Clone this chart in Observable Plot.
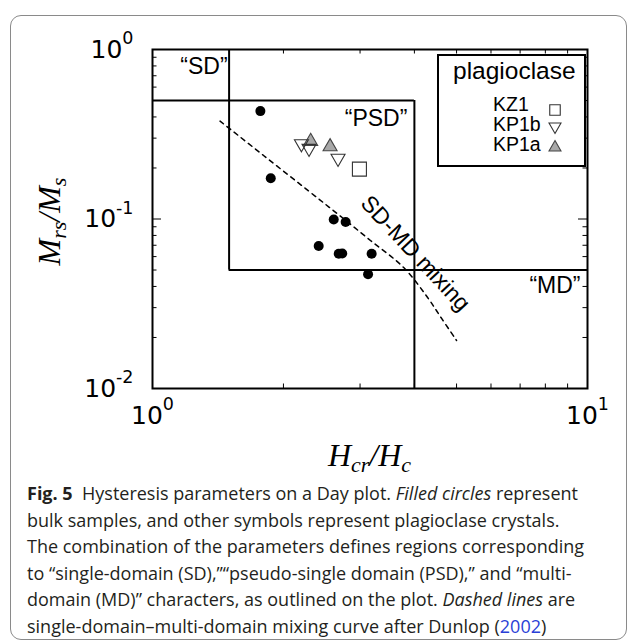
<!DOCTYPE html>
<html><head><meta charset="utf-8">
<script src="https://cdn.jsdelivr.net/npm/d3@7"></script>
<script src="https://cdn.jsdelivr.net/npm/@observablehq/plot@0.6"></script>
<style>
html,body{margin:0;padding:0;background:#fff;}
body{width:629px;height:643px;position:relative;overflow:hidden;}
#box{position:absolute;left:10px;top:15px;width:617px;height:625px;border:1.5px solid #8a8a8a;border-radius:11px;box-sizing:border-box;}
#chart{position:absolute;left:0;top:0;}
#caption{position:absolute;left:27px;top:480px;font-family:"Open Sans",sans-serif;font-size:18px;line-height:26.6px;color:#231f20;white-space:nowrap;}
#caption b{font-weight:700;}
#caption .ref{color:#2a3fd6;}
</style></head><body>
<div id="box"></div>
<div id="chart"></div>
<div id="caption"><b>Fig. 5</b>&nbsp; Hysteresis parameters on a Day plot. <i>Filled circles</i> represent<br>bulk samples, and other symbols represent plagioclase crystals.<br>The combination of the parameters defines regions corresponding<br>to “single-domain (SD),”“pseudo-single domain (PSD),” and “multi-<br>domain (MD)” characters, as outlined on the plot. <i>Dashed lines</i> are<br>single-domain–multi-domain mixing curve after Dunlop (<span class="ref">2002</span>)</div>
<script>
// ---- data ----
const bulkHcrHc = [1.77, 1.87, 2.61, 2.78, 2.41, 2.68, 2.73, 3.19, 3.13];
const bulkMrsMs = [0.433, 0.174, 0.0993, 0.096, 0.0693, 0.0623, 0.0626, 0.0623, 0.0472];
const kz1HcrHc = [2.99];
const kz1MrsMs = [0.197];
const kp1bHcrHc = [2.20, 2.29, 2.67];
const kp1bMrsMs = [0.278, 0.261, 0.228];
const kp1aHcrHc = [2.31, 2.56];
const kp1aMrsMs = [0.287, 0.267];
const mixHcrHc = [1.43, 1.80, 2.28, 2.69, 3.17, 3.78, 4.29, 4.62, 5.0];
const mixMrsMs = [0.378, 0.237, 0.147, 0.105, 0.0747, 0.0517, 0.0344, 0.0259, 0.0192];
const hcrBounds = [1.5, 4];
const mrsBounds = [0.5, 0.05];
const xTickValues = [1, 10];
const xTickLabels = ["10^0", "10^1"];
const yTickValues = [1, 0.1, 0.01];
const yTickLabels = ["10^0", "10^-1", "10^-2"];
const xMinor = [2, 3, 4, 5, 6, 7, 8, 9];
const yMinor = [0.02,0.03,0.04,0.05,0.06,0.07,0.08,0.09,0.2,0.3,0.4,0.5,0.6,0.7,0.8,0.9];
const yMajor = [0.1];
const regionNames = ["“SD”", "“PSD”", "“MD”"];
const mixLabel = "SD-MD mixing";
const legendTitle = "plagioclase";
const legendNames = ["KZ1", "KP1b", "KP1a"];

// ---- tables ----
const zip = (xs, ys) => xs.map((x, i) => ({x, y: ys[i]}));
const bulk = zip(bulkHcrHc, bulkMrsMs);
const kz1 = zip(kz1HcrHc, kz1MrsMs);
const kp1b = zip(kp1bHcrHc, kp1bMrsMs);
const kp1a = zip(kp1aHcrHc, kp1aMrsMs);
const mix = zip(mixHcrHc, mixMrsMs);
const vSegs = [{x: hcrBounds[0], y1: mrsBounds[1], y2: 1}, {x: hcrBounds[1], y1: 0.01, y2: mrsBounds[0]}];
const hSegs = [{y: mrsBounds[0], x1: 1, x2: hcrBounds[1]}, {y: mrsBounds[1], x1: hcrBounds[0], x2: 10}];

const sqrt3 = Math.sqrt(3);
const triangleDown = {
  draw(context, size) {
    const y = -Math.sqrt(size / (sqrt3 * 3));
    context.moveTo(0, -y * 2);
    context.lineTo(-sqrt3 * y, y);
    context.lineTo(sqrt3 * y, y);
    context.closePath();
  }
};

const W = 629, H = 480, ML = 152, MR = 42, MT = 49, MB = 92;
const IW = W - ML - MR, IH = H - MT - MB;
const tickFont = "DejaVu Sans";
const annFont = "Liberation Sans";
const annStyle = {textAnchor: "end", lineAnchor: "bottom", fontSize: 23, fontFamily: annFont, fill: "black"};

const chart = Plot.plot({
  width: W, height: H,
  marginLeft: ML, marginRight: MR, marginTop: MT, marginBottom: MB,
  style: {background: "transparent", overflow: "visible"},
  x: {type: "log", domain: [1, 10], axis: null},
  y: {type: "log", domain: [0.01, 1], axis: null},
  marks: [
    Plot.ruleX(vSegs, {x: "x", y1: "y1", y2: "y2", stroke: "black", strokeWidth: 2}),
    Plot.ruleY(hSegs, {y: "y", x1: "x1", x2: "x2", stroke: "black", strokeWidth: 2}),
    Plot.line(mix, {x: "x", y: "y", stroke: "black", strokeWidth: 1.5, strokeDasharray: "4.5,4.5", curve: "catmull-rom"}),
    Plot.dot(bulk, {x: "x", y: "y", r: 5, fill: "black", stroke: "none"}),
    Plot.dot(kz1, {x: "x", y: "y", symbol: "square", r: 7.9, fill: "white", stroke: "#333", strokeWidth: 1.1}),
    Plot.dot(kp1a, {x: "x", y: "y", symbol: "triangle", r: 5.2, fill: "#a8a8a8", stroke: "#444", strokeWidth: 1.1}),
    Plot.dot(kp1b, {x: "x", y: "y", symbol: triangleDown, r: 5.2, fill: "none", stroke: "#333", strokeWidth: 1.1}),
    Plot.frame({stroke: "black", strokeWidth: 2}),
    Plot.tickX(xMinor, {x: d => d, insetBottom: IH - 4.5, stroke: "black", strokeWidth: 1}),
    Plot.tickX(xMinor, {x: d => d, insetTop: IH - 4.5, stroke: "black", strokeWidth: 1}),
    Plot.tickY(yMinor, {y: d => d, insetRight: IW - 4.5, stroke: "black", strokeWidth: 1}),
    Plot.tickY(yMinor, {y: d => d, insetLeft: IW - 4.5, stroke: "black", strokeWidth: 1}),
    Plot.tickY(yMajor, {y: d => d, insetRight: IW - 9, stroke: "black", strokeWidth: 1}),
    Plot.tickY(yMajor, {y: d => d, insetLeft: IW - 9, stroke: "black", strokeWidth: 1}),
    Plot.text(yTickValues, {y: d => d, text: (d, i) => yTickLabels[i], frameAnchor: "left", dx: -19, textAnchor: "end", lineAnchor: "middle", fontSize: 25, fontFamily: tickFont, fill: "black"}),
    Plot.text(xTickValues, {x: d => d, text: (d, i) => xTickLabels[i], frameAnchor: "bottom", dy: 27, textAnchor: "middle", lineAnchor: "middle", fontSize: 25, fontFamily: tickFont, fill: "black"}),
    Plot.text([{x: hcrBounds[0], y: 1}], {x: "x", y: "y", text: () => regionNames[0], dx: -1.5, dy: 24, ...annStyle}),
    Plot.text([{x: hcrBounds[1], y: mrsBounds[0]}], {x: "x", y: "y", text: () => regionNames[1], dx: -7, dy: 25, ...annStyle}),
    Plot.text([{x: 10, y: mrsBounds[1]}], {x: "x", y: "y", text: () => regionNames[2], dx: -7, dy: 22.5, ...annStyle}),
    Plot.text([{x: 4.02, y: 0.0626}], {x: "x", y: "y", text: () => mixLabel, rotate: 47, textAnchor: "middle", lineAnchor: "middle", fontSize: 23, fontFamily: annFont, fill: "black"})
  ]
});
document.getElementById("chart").appendChild(chart);

// superscripts for tick labels
chart.querySelectorAll("text").forEach(t => {
  if (!t.textContent.includes("^")) return;
  const [base, exp] = t.textContent.split("^");
  const host = t.querySelector("tspan") || t;
  host.textContent = base;
  const ts = document.createElementNS("http://www.w3.org/2000/svg", "tspan");
  ts.setAttribute("font-size", 17.5);
  ts.setAttribute("dy", -13.5);
  ts.textContent = exp;
  t.appendChild(ts);
});

const svg = d3.select(chart);
// axis labels
const serif = "Liberation Serif";
const xl = svg.append("text").attr("x", ML + IW / 2).attr("y", 466).attr("text-anchor", "middle")
  .attr("font-family", serif).attr("font-style", "italic").attr("font-size", 32).attr("fill", "black");
xl.append("tspan").text("H");
xl.append("tspan").attr("font-size", 22).attr("dy", 6).text("cr");
xl.append("tspan").attr("dy", -6).text("/H");
xl.append("tspan").attr("font-size", 22).attr("dy", 6).text("c");

const yl = svg.append("text").attr("transform", `translate(60,${MT + IH / 2 + 3}) rotate(-90)`).attr("text-anchor", "middle")
  .attr("font-family", serif).attr("font-style", "italic").attr("font-size", 32).attr("fill", "black");
yl.append("tspan").text("M");
yl.append("tspan").attr("font-size", 22).attr("dy", 6).text("rs");
yl.append("tspan").attr("dy", -6).text("/M");
yl.append("tspan").attr("font-size", 22).attr("dy", 6).text("s");

// legend
const lg = svg.append("g").attr("font-family", annFont).attr("fill", "black").attr("text-anchor", "start");
lg.append("rect").attr("x", 438).attr("y", 55).attr("width", 147).attr("height", 111)
  .attr("fill", "white").attr("stroke", "black").attr("stroke-width", 2);
lg.append("text").attr("x", 453).attr("y", 79).attr("font-size", 24.5).text(legendTitle);
const entryY = [111, 131, 151];
const symY = [110, 126.5, 147.5];
const symbols = [
  {type: d3.symbolSquare, size: 110, fill: "white", stroke: "#333"},
  {type: triangleDown, size: 62, fill: "white", stroke: "#333"},
  {type: d3.symbolTriangle, size: 62, fill: "#a8a8a8", stroke: "#444"}
];
legendNames.forEach((name, i) => {
  lg.append("text").attr("x", 493).attr("y", entryY[i]).attr("font-size", 19.5).text(name);
  lg.append("path").attr("d", d3.symbol(symbols[i].type, symbols[i].size)())
    .attr("transform", `translate(555,${symY[i]})`)
    .attr("fill", symbols[i].fill).attr("stroke", symbols[i].stroke).attr("stroke-width", 1.1);
});
</script>
</body></html>
